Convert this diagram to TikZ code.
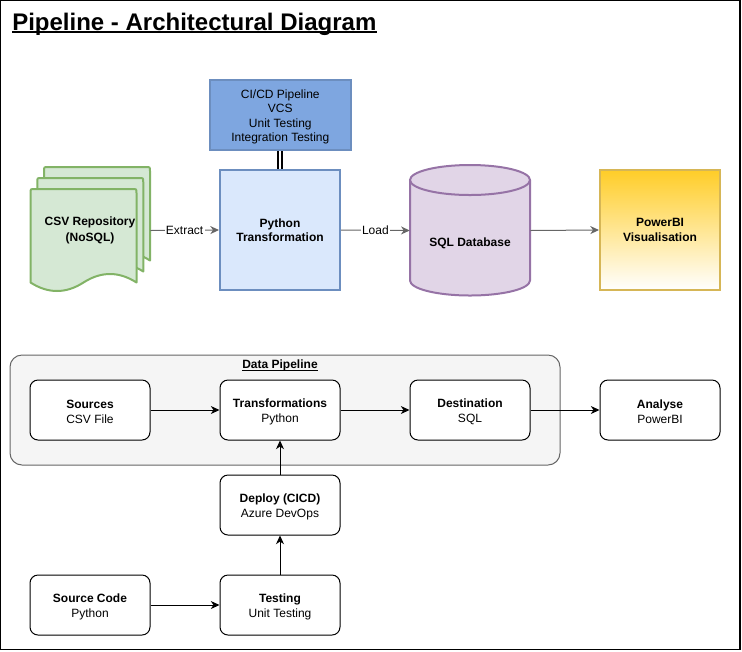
\documentclass[tikz,border=0pt]{standalone}
\usepackage{fontspec}
\setmainfont{Liberation Sans}
\usetikzlibrary{arrows.meta}
\definecolor{docfill}{HTML}{D5E8D4}
\definecolor{docline}{HTML}{82B366}
\definecolor{bluefill}{HTML}{DAE8FC}
\definecolor{blueline}{HTML}{6C8EBF}
\definecolor{cicdfill}{HTML}{7EA6E0}
\definecolor{sqlfill}{HTML}{E1D5E7}
\definecolor{sqlline}{HTML}{9673A6}
\definecolor{pbitop}{HTML}{FFCD28}
\definecolor{pbiline}{HTML}{D6B656}
\definecolor{arrgray}{HTML}{666666}
\definecolor{dpfill}{HTML}{F5F5F5}
\definecolor{dpline}{HTML}{666666}
\begin{document}
\begin{tikzpicture}[x=0.75pt,y=-0.75pt,
  txt/.style={font=\fontsize{9}{10.8}\selectfont, align=center},
  btxt/.style={font=\fontsize{9}{10.8}\selectfont\bfseries, align=center},
  boxtext/.style={label={[txt, inner sep=0pt, yshift=-1.3pt]center:#1}},
  topbox/.style={draw=blueline, line width=1.5pt, minimum width=90pt, minimum height=90pt, inner sep=0pt},
  docstyle/.style={fill=docfill, draw=docline, line width=1.5pt, line join=round},
  flowbox/.style={draw=black, fill=white, line width=0.75pt, rounded corners=6pt, minimum width=90pt, minimum height=45pt, inner sep=0pt},
  tip/.style={-{Stealth[length=6.5pt,width=6pt,inset=2pt]}},
  grayarr/.style={draw=arrgray, line width=0.75pt, tip, arrgray},
  blackarr/.style={draw=black, line width=0.75pt, tip},
  lbl/.style={txt, fill=white, inner sep=1pt, text=black}
]
\useasboundingbox (0,0) rectangle (742,651);
\draw[line width=1pt] (0.5,0.5) rectangle (740,649.7);

% Title
\node[anchor=base west, inner sep=0pt, font=\fontsize{18}{21}\selectfont\bfseries] (title) at (12,30) {Pipeline - Architectural Diagram};
\draw[line width=1.4pt] ([yshift=-1.8pt]title.base west) -- ([yshift=-1.8pt]title.base east);

% CSV multi-document
\foreach \dx/\dy in {13.5/-22, 6.75/-11, 0/0}{
  \draw[docstyle, shift={(\dx,\dy)}]
    (30.5,282.5) -- (30.5,193) .. controls (30.5,189) .. (34.5,189)
    -- (132.5,189) .. controls (136.5,189) .. (136.5,193) -- (136.5,282.5)
    .. controls (118.83,271.17) and (101.17,271.17) .. (83.5,282.5)
    .. controls (65.83,293.83) and (48.17,293.83) .. (30.5,282.5) -- cycle;
}
\node[font=\fontsize{9}{12.5}\selectfont\bfseries, align=center, minimum width=90pt, minimum height=93pt, inner sep=0pt] (csv) at (90,230.5) {CSV Repository\\(NoSQL)};

% CI/CD and Python
\node[draw=blueline, fill=cicdfill, line width=1.5pt, minimum width=105.75pt, minimum height=52.5pt, inner sep=0pt,
  boxtext={{CI/CD Pipeline\\VCS\\Unit Testing\\Integration Testing}}] (cicd) at (280.3,115) {};
\node[topbox, fill=bluefill, btxt] (py) at (280,230) {Python\\Transformation};
\draw[line width=1.5pt, double=white, double distance=1.5pt] (py.north |- cicd.south) -- (py.north);

% SQL database cylinder
\fill[sqlfill] (410,180) -- (410,280.5) arc[start angle=180, end angle=0, x radius=60, y radius=15] -- (530,180) -- cycle;
\draw[sqlline, line width=1.5pt] (410,180) -- (410,280.5) arc[start angle=180, end angle=0, x radius=60, y radius=15] -- (530,180);
\draw[sqlline, fill=sqlfill, line width=1.5pt] (470,180) ellipse[x radius=60, y radius=15];
\node[minimum width=90pt, minimum height=98pt, inner sep=0pt] (sql) at (470,230.5) {};
\node[btxt] (sqltxt) at (470,243) {SQL Database};

% PowerBI
\node[draw=pbiline, line width=1.5pt, top color=pbitop, bottom color=white, minimum width=90pt, minimum height=90pt, inner sep=0pt, btxt] (pbi) at (660,230) {PowerBI\\Visualisation};

% top connectors
\draw[grayarr] (csv.east) -- node[lbl] {Extract} (py.west);
\draw[grayarr] (py.east) -- node[lbl] {Load} (sql.west);
\draw[grayarr] (sql.east) -- (pbi.west);

% Data pipeline container
\node[draw=dpline, fill=dpfill, line width=0.75pt, rounded corners=9pt, minimum width=412.5pt, minimum height=82.5pt, inner sep=0pt] (dp) at (285,410) {};
\node[anchor=base, inner sep=0pt, btxt] (dplbl) at (280,368.7) {Data Pipeline};
\draw[line width=0.75pt] ([yshift=-1.3pt]dplbl.base west) -- ([yshift=-1.3pt]dplbl.base east);

% flow boxes
\node[flowbox, boxtext={{\textbf{Sources}\\CSV File}}] (src) at (90,410) {};
\node[flowbox, boxtext={{\textbf{Transformations}\\Python}}] (tr) at (280,410) {};
\node[flowbox, boxtext={{\textbf{Destination}\\SQL}}] (dst) at (470,410) {};
\node[flowbox, boxtext={{\textbf{Analyse}\\PowerBI}}] (an) at (660,410) {};
\node[flowbox, boxtext={{\textbf{Deploy (CICD)}\\Azure DevOps}}] (dep) at (280,505) {};
\node[flowbox, boxtext={{\textbf{Testing}\\Unit Testing}}] (tst) at (280,605) {};
\node[flowbox, boxtext={{\textbf{Source Code}\\Python}}] (sc) at (90,605) {};

\draw[blackarr] (src.east) -- (tr.west);
\draw[blackarr] (tr.east) -- (dst.west);
\draw[blackarr] (dst.east) -- (an.west);
\draw[blackarr] (dep.north) -- (tr.south);
\draw[blackarr] (tst.north) -- (dep.south);
\draw[blackarr] (sc.east) -- (tst.west);
\end{tikzpicture}
\end{document}
